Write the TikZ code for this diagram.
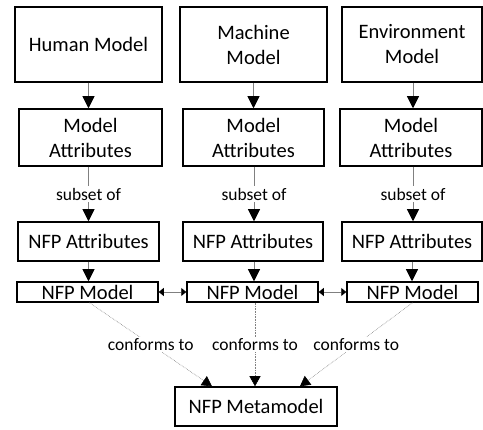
\documentclass[tikz,border=0pt]{standalone}
\usepackage{fontspec}
\setmainfont{Carlito}
\usetikzlibrary{arrows.meta}
\tikzset{
  box/.style={draw=black, line width=1.5pt, rectangle, inner sep=0pt,
    align=center, font=\fontsize{20.5}{25}\selectfont},
  flow/.style={draw=gray, line width=0.8pt,
    -{Triangle[length=12pt,width=12pt,black]}},
  link/.style={draw=gray, line width=0.8pt,
    {Triangle[length=5pt,width=8pt,black]}-{Triangle[length=5pt,width=8pt,black]}},
  conf/.style={draw=gray, line width=0.6pt, densely dotted,
    -{Triangle[length=10pt,width=11pt,black]}},
  lbl/.style={fill=white, inner sep=1.5pt, font=\fontsize{17.5}{20}\selectfont}
}
\begin{document}
\begin{tikzpicture}[x=1pt,y=-1pt]
\useasboundingbox (0,0) rectangle (483,430);

% top row: the three models
\node[box, minimum width=147pt, minimum height=75pt] (hm) at (88.5,44.5) {Human Model};
\node[box, minimum width=147pt, minimum height=75pt] (mm) at (253.5,44.5) {Machine\\Model};
\node[box, minimum width=140pt, minimum height=75pt] (em) at (412,44.5) {Environment\\Model};

% model attributes
\node[box, minimum width=143pt, minimum height=57pt] (ha) at (90.5,137.5) {Model\\Attributes};
\node[box, minimum width=141pt, minimum height=57pt] (ma) at (253.5,137.5) {Model\\Attributes};
\node[box, minimum width=142pt, minimum height=57pt] (ea) at (411,137.5) {Model\\Attributes};

% NFP attributes
\node[box, minimum width=141pt, minimum height=39pt] (hn) at (88.5,241.5) {NFP Attributes};
\node[box, minimum width=140pt, minimum height=39pt] (mn) at (253,241.5) {NFP Attributes};
\node[box, minimum width=140pt, minimum height=39pt] (en) at (412,241.5) {NFP Attributes};

% NFP models
\node[box, minimum width=141pt, minimum height=20pt] (hp) at (87.5,292) {NFP Model};
\node[box, minimum width=131pt, minimum height=20pt] (mp) at (252.5,292) {NFP Model};
\node[box, minimum width=131pt, minimum height=20pt] (ep) at (412.5,292) {NFP Model};

% metamodel
\node[box, minimum width=162pt, minimum height=39pt] (meta) at (256,406.5) {NFP Metamodel};

% model -> attributes
\draw[flow] (hm.south) -- (hm.south |- ha.north);
\draw[flow] (mm.south) -- (mm.south |- ma.north);
\draw[flow] ([xshift=1pt]em.south) -- ([xshift=1pt]em.south |- ea.north);

% attributes -> NFP attributes
\draw[flow] ([xshift=-2pt]ha.south) -- node[lbl] {subset of} ([xshift=-2pt]ha.south |- hn.north);
\draw[flow] ([xshift=0.5pt]ma.south) -- node[lbl] {subset of} ([xshift=0.5pt]ma.south |- mn.north);
\draw[flow] ([xshift=2pt]ea.south) -- node[lbl] {subset of} ([xshift=2pt]ea.south |- en.north);

% NFP attributes -> NFP model
\draw[flow] (hn.south) -- (hn.south |- hp.north);
\draw[flow] ([xshift=1pt]mn.south) -- ([xshift=1pt]mn.south |- mp.north);
\draw[flow] (en.south) -- (en.south |- ep.north);

% links between NFP models
\draw[link] (hp.east) -- (mp.west);
\draw[link] (mp.east) -- (ep.west);

% conformance to the metamodel
\coordinate (mL) at ([xshift=-44pt]meta.north);
\coordinate (mM) at ([xshift=-1pt]meta.north);
\coordinate (mR) at ([xshift=44pt]meta.north);
\draw[conf] ([xshift=2pt]hp.south) -- node[lbl] {conforms to} (mL);
\draw[conf] ([xshift=2.5pt]mp.south) -- node[lbl] {conforms to} (mM);
\draw[conf] (ep.south) -- node[lbl] {conforms to} (mR);
\end{tikzpicture}
\end{document}
